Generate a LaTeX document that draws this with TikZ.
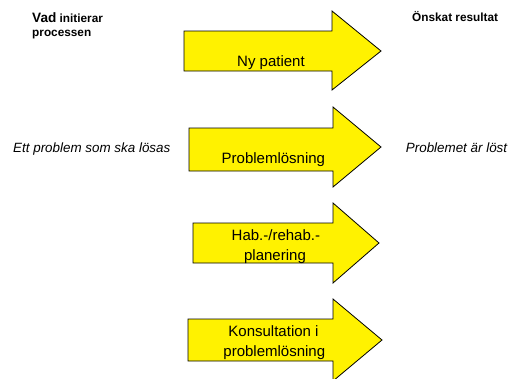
\documentclass[tikz,border=0pt]{standalone}
\usepackage{fontspec}
\setmainfont{Liberation Sans}
\begin{document}
\begin{tikzpicture}[x=1pt,y=-1pt,
  arrowbox/.style={draw=black, fill=yellow, line width=0.8pt, line join=miter},
  lbl/.style={inner sep=0pt, anchor=base, font=\fontsize{15}{18}\selectfont},
  side/.style={inner sep=0pt, anchor=base west, font=\fontsize{13.4}{16}\selectfont\itshape},
  head/.style={inner sep=0pt, anchor=base west, font=\fontsize{11.8}{14}\selectfont\bfseries}]
\useasboundingbox (0,0) rectangle (509,378);
\begin{scope}
\clip (0,0) rectangle (509,378);
% arrow 1
\draw[arrowbox] (184,31) -- (332,31) -- (332,11) -- (381,51) -- (332,90) -- (332,71) -- (184,71) -- cycle;
% arrow 2
\draw[arrowbox] (189,128) -- (333,128) -- (333,107) -- (381,147) -- (333,187) -- (333,171) -- (189,171) -- cycle;
% arrow 3
\draw[arrowbox] (193,223) -- (333,223) -- (333,203) -- (379,243) -- (333,283) -- (333,263) -- (193,263) -- cycle;
% arrow 4
\draw[arrowbox] (188,319) -- (333,319) -- (333,299) -- (382,340) -- (333,381) -- (333,361) -- (188,361) -- cycle;
\end{scope}
\node[lbl] (ny) at (271,66.7) {Ny patient};
\node[lbl] (pl) at (273.4,163) {Problemlösning};
\node[lbl] (hab1) at (275.9,240.7) {Hab.-/rehab.-};
\node[lbl] (hab2) at (275,260.7) {planering};
\node[lbl] (kon1) at (273.5,336.7) {Konsultation i};
\node[lbl] (kon2) at (274.3,356.5) {problemlösning};
\node[side] (ett) at (13,152) {Ett problem som ska lösas};
\node[side] (lost) at (405.7,152) {Problemet är löst};
\node[head] (vad) at (32,22.5) {{\fontsize{13.6}{16}\selectfont Vad} initierar};
\node[head] (proc) at (32,36.5) {processen};
\node[head] (onsk) at (412,21) {Önskat resultat};
\end{tikzpicture}
\end{document}
